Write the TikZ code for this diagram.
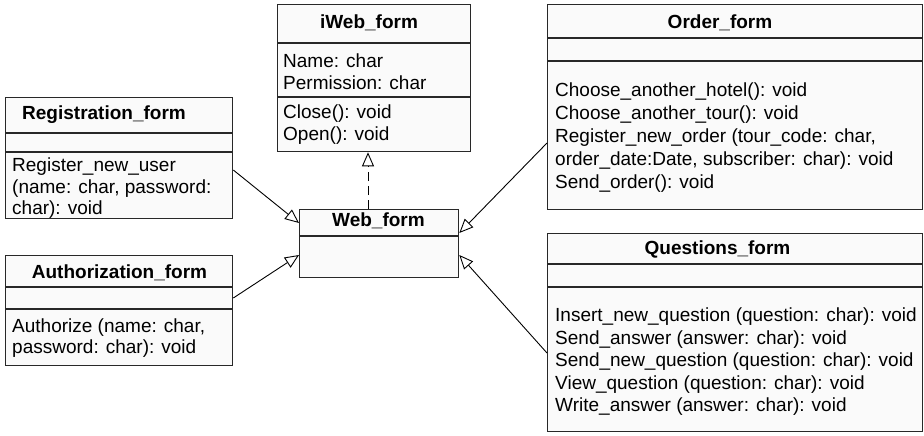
\documentclass[tikz,border=0pt]{standalone}
\usepackage{fontspec}
\setmainfont{Liberation Sans}
\usetikzlibrary{arrows.meta,calc}

\definecolor{boxfill}{RGB}{250,250,250}
\definecolor{boxline}{RGB}{40,40,40}

\tikzset{
  classbox/.style={draw=boxline, fill=boxfill, line width=1.3pt, inner sep=0pt, anchor=north west},
  divider/.style={draw=boxline, line width=1.3pt},
  title/.style={font=\fontsize{19}{22}\selectfont\bfseries, inner sep=0pt, anchor=base},
  member/.style={font=\fontsize{19}{22}\selectfont, inner sep=0pt, anchor=base west},
  gen/.style={draw=black, line width=0.9pt, -{Triangle[open, length=14pt, width=12pt, line width=0.9pt]}},
  realize/.style={gen, dash pattern=on 9pt off 5pt}
}

% class box: name, left, top, right, bottom
\newcommand{\classrect}[5]{%
  \node[classbox, minimum width=#4pt-#2pt, minimum height=#5pt-#3pt] (#1) at (#2,#3) {};}
% horizontal compartment divider inside a box, at depth #2 below its top
\newcommand{\compline}[2]{%
  \draw[divider] ($(#1.north west)+(0,#2)$) -- ($(#1.north east)+(0,#2)$);}

\begin{document}
\begin{tikzpicture}[x=1pt, y=-1pt]
\useasboundingbox (0,0) rectangle (924,436);

% ---- boxes ----
\classrect{iweb}{277}{4}{470}{151}
\compline{iweb}{39}\compline{iweb}{93}
\classrect{reg}{5}{97}{232}{218}
\compline{reg}{36}\compline{reg}{55}
\classrect{auth}{5}{255}{232}{365}
\compline{auth}{32}\compline{auth}{54}
\classrect{web}{299}{209}{458}{277}
\compline{web}{27}
\classrect{order}{547}{4}{922}{209}
\compline{order}{34}\compline{order}{57}
\classrect{quest}{547}{233}{922}{431}
\compline{quest}{31}\compline{quest}{54}

% ---- iWeb_form ----
\node[title] (iweb-t) at (369,28.5) {iWeb\_form};
\node[member] (iweb-a1) at (283,67.5) {Name: char};
\node[member] (iweb-a2) at (283,89.5) {Permission: char};
\node[member] (iweb-o1) at (283,118.5) {Close(): void};
\node[member] (iweb-o2) at (283,140.5) {Open(): void};

% ---- Registration_form ----
\node[member, font=\fontsize{19}{22}\selectfont\bfseries] (reg-t) at (22,119.5) {Registration\_form};
\node[member] (reg-o1) at (12,171.5) {Register\_new\_user};
\node[member] (reg-o2) at (12,193.5) {(name: char, password:};
\node[member] (reg-o3) at (12,214.5) {char): void};

% ---- Authorization_form ----
\node[title] (auth-t) at (119.5,278.5) {Authorization\_form};
\node[member] (auth-o1) at (12,332.5) {Authorize (name: char,};
\node[member] (auth-o2) at (12,353.5) {password: char): void};

% ---- Web_form ----
\node[title] (web-t) at (378.5,226.5) {Web\_form};

% ---- Order_form ----
\node[title] (order-t) at (720,28.5) {Order\_form};
\node[member] (order-o1) at (555,96.5) {Choose\_another\_hotel(): void};
\node[member] (order-o2) at (555,119.5) {Choose\_another\_tour(): void};
\node[member] (order-o3) at (555,142.5) {Register\_new\_order (tour\_code: char,};
\node[member] (order-o4) at (555,165.5) {order\_date:Date, subscriber: char): void};
\node[member] (order-o5) at (555,188.5) {Send\_order(): void};

% ---- Questions_form ----
\node[title] (quest-t) at (717.5,254.5) {Questions\_form};
\node[member] (quest-o1) at (555,321.5) {Insert\_new\_question (question: char): void};
\node[member] (quest-o2) at (555,344) {Send\_answer (answer: char): void};
\node[member] (quest-o3) at (555,366.5) {Send\_new\_question (question: char): void};
\node[member] (quest-o4) at (555,389) {View\_question (question: char): void};
\node[member] (quest-o5) at (555,411.5) {Write\_answer (answer: char): void};

% ---- relations ----
\draw[gen] ($(reg.north east)+(0,73)$) -- ($(web.north west)+(0,14)$);
\draw[gen] ($(auth.north east)+(0,43)$) -- ($(web.north west)+(0,46)$);
\draw[gen] ($(order.north west)+(0,139)$) -- ($(web.north east)+(0,24)$);
\draw[gen] ($(quest.north west)+(0,120)$) -- ($(web.north east)+(0,46)$);
\draw[realize] ($(web.north west)+(69,0)$) -- ($(iweb.south west)+(91,0)$);
\end{tikzpicture}
\end{document}
